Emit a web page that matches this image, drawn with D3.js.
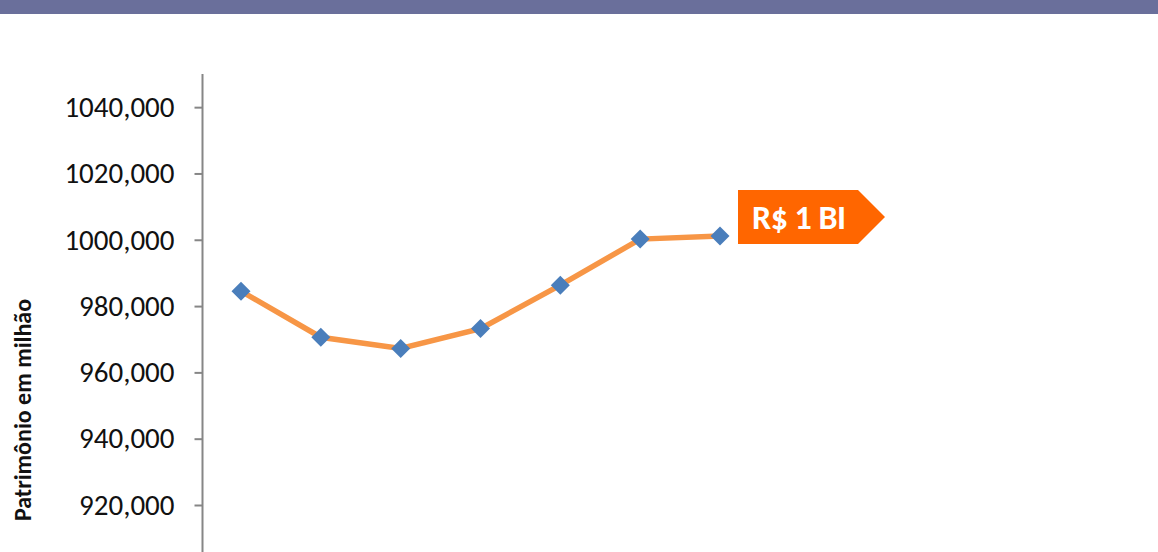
<!DOCTYPE html>
<html lang="en">
<head>
<meta charset="UTF-8">
<title>Patrimônio em milhão</title>
<script src="https://d3js.org/d3.v7.min.js"></script>
<style>
  body { margin: 0; background: #fff; }
  svg { display: block; }
  .tick text { font-family: Carlito, Calibri, Lato, sans-serif; }
</style>
</head>
<body>
<div id="vis"><svg width="1158" height="552"></svg></div>
<script>

// periods (x axis is cut off in the reference, labels not visible)
const periods = ['p1', 'p2', 'p3', 'p4', 'p5', 'p6', 'p7'];
const patrimonio = [984.5, 970.6, 967.2, 973.2, 986.3, 1000.2, 1001.1];
const yTicks = [920, 940, 960, 980, 1000, 1020, 1040];
const yTitle = 'Patrimônio em milhão';
const tagText = 'R$ 1 BI';

const svg = d3.select('svg');

// header band
svg.append('rect')
    .attr('x', 0).attr('y', 0)
    .attr('width', 1158).attr('height', 14)
    .style('fill', '#6a6f9b');

const xScale = d3.scalePoint().domain(periods).range([241, 720]);
const yScale = d3.scaleLinear().domain([900, 1050]).range([571.3, 74]);

const yAxis = d3.axisLeft(yScale)
    .tickValues(yTicks)
    .tickSize(8)
    .tickPadding(20)
    .tickFormat(d => d + ',000');

const yAxisG = svg.append('g')
    .attr('transform', 'translate(202.5, 0)')
    .call(yAxis);

yAxisG.select('.domain')
    .attr('d', `M0,${yScale(1050)}V552`)
    .style('stroke', '#868686')
    .style('stroke-width', '2px');
yAxisG.selectAll('.tick line')
    .style('stroke', '#868686')
    .style('stroke-width', '2px');
yAxisG.selectAll('.tick text')
    .style('font-size', '29px')
    .style('fill', '#111');

svg.append('text')
    .attr('transform', `translate(31, 410) rotate(-90)`)
    .attr('text-anchor', 'middle')
    .style('font-family', 'Carlito, Calibri, Lato, sans-serif')
    .style('font-weight', 'bold')
    .style('font-size', '24px')
    .style('fill', '#111')
    .text(yTitle);

const line = d3.line()
    .x((d, i) => xScale(periods[i]))
    .y(d => yScale(d));

svg.append('path')
    .datum(patrimonio)
    .attr('d', line)
    .style('fill', 'none')
    .style('stroke', '#f79646')
    .style('stroke-width', '5.5px');

svg.selectAll('path.marker')
    .data(patrimonio)
    .enter()
    .append('path')
    .attr('class', 'marker')
    .attr('d', 'M0,-9.5L9.5,0L0,9.5L-9.5,0Z')
    .attr('transform', (d, i) => `translate(${xScale(periods[i])},${yScale(d)})`)
    .style('fill', '#4a7ebb');

// tag beside the last point
const lastX = xScale(periods[periods.length - 1]);
const lastY = yScale(patrimonio[patrimonio.length - 1]);
const tag = svg.append('g')
    .attr('transform', `translate(${lastX + 18}, ${lastY - 19})`);

tag.append('path')
    .attr('d', 'M0,-27H120L147,0L120,27H0Z')
    .style('fill', '#ff6600');

tag.append('text')
    .attr('x', 14)
    .attr('y', 12)
    .style('font-family', 'Carlito, Calibri, Lato, sans-serif')
    .style('font-weight', 'bold')
    .style('font-size', '34px')
    .style('letter-spacing', '-0.5px')
    .style('fill', '#fff')
    .text(tagText);

</script>
</body>
</html>
